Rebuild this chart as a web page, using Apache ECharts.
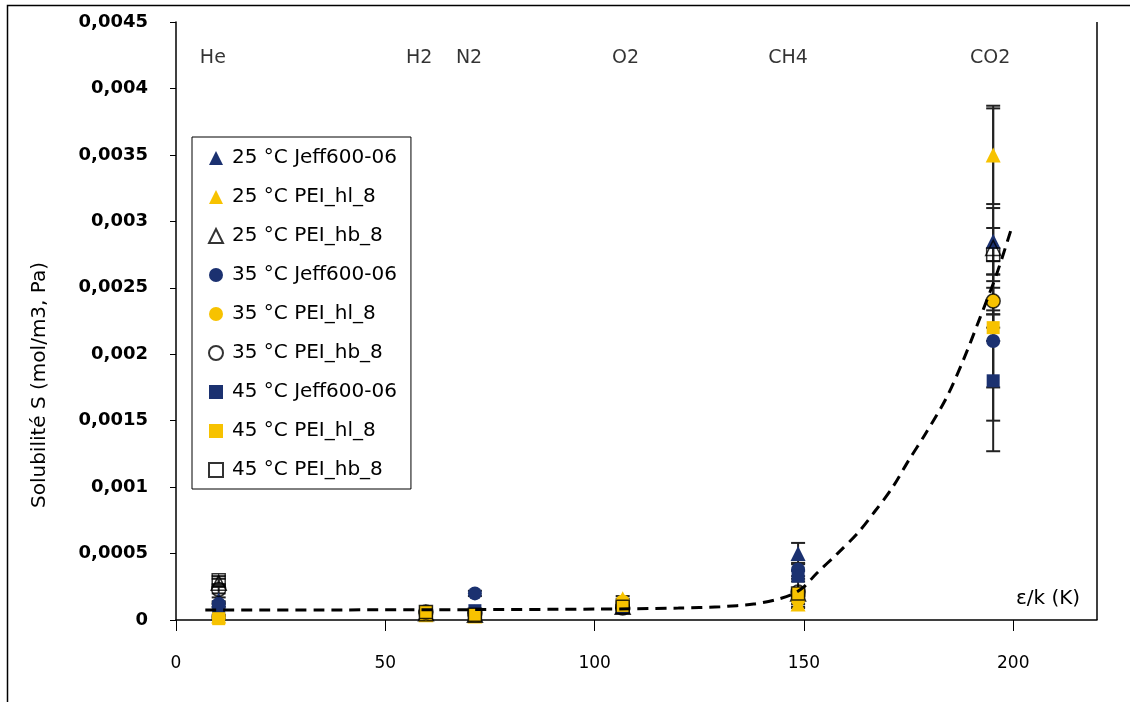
<!DOCTYPE html>
<html>
<head>
<meta charset="utf-8">
<script src="https://cdn.jsdelivr.net/npm/echarts@6/dist/echarts.min.js"></script>
<style>
html,body{margin:0;padding:0;background:#fff;}
#chart{width:1130px;height:702px;}
</style>
</head>
<body>
<div id="chart"></div>
<script>
// ---- data ----
const gasNames = ['He', 'H2', 'N2', 'O2', 'CH4', 'CO2'];
const gasX = [10.2, 59.7, 71.4, 106.7, 148.6, 195.2];
const gasLabelX = [8.8, 58.1, 70.0, 107.4, 146.2, 194.5];
const gasLabelY = 0.00423;

const seriesNames = [
  '25 °C Jeff600-06', '25 °C PEI_hl_8', '25 °C PEI_hb_8',
  '35 °C Jeff600-06', '35 °C PEI_hl_8', '35 °C PEI_hb_8',
  '45 °C Jeff600-06', '45 °C PEI_hl_8', '45 °C PEI_hb_8'
];
// values at He, H2, N2, O2, CH4, CO2
const s25Jeff = [0.00015, 0.00006, 0.00006, 0.00010, 0.00050, 0.00285];
const s25Hl   = [0.00003, 0.00004, 0.00003, 0.00016, 0.00012, 0.00350];
const s25Hb   = [0.00028, 0.00005, 0.00004, 0.00010, 0.00020, 0.00280];
const s35Jeff = [0.00012, 0.00006, 0.00020, 0.00010, 0.00038, 0.00210];
const s35Hl   = [0.00002, 0.00005, 0.00004, 0.00014, 0.00015, 0.00240];
const s35Hb   = [0.00023, 0.00006, 0.00005, 0.00009, 0.00021, 0.00240];
const s45Jeff = [0.00010, 0.00006, 0.00007, 0.00010, 0.00033, 0.00180];
const s45Hl   = [0.00001, 0.00006, 0.00004, 0.00011, 0.00020, 0.00220];
const s45Hb   = [0.00030, 0.00006, 0.00004, 0.00010, 0.00020, 0.00275];
// symmetric error bars
const e25Jeff = [0.00002, 0.00001, 0.00001, 0.00001, 0.00008, 0.00025];
const e25Hl   = [0.00001, 0.00001, 0.00001, 0.00002, 0.00002, 0.00037];
const e25Hb   = [0.00003, 0.00001, 0.00001, 0.00001, 0.00002, 0.00105];
const e35Jeff = [0.00002, 0.00001, 0.00002, 0.00001, 0.00005, 0.00060];
const e35Hl   = [0.00001, 0.00001, 0.00001, 0.00002, 0.00003, 0.00020];
const e35Hb   = [0.00003, 0.00001, 0.00001, 0.00001, 0.00002, 0.00010];
const e45Jeff = [0.00002, 0.00001, 0.00001, 0.00001, 0.00004, 0.00053];
const e45Hl   = [0.00001, 0.00001, 0.00001, 0.00002, 0.00011, 0.00010];
const e45Hb   = [0.00003, 0.00001, 0.00001, 0.00001, 0.00002, 0.00020];

// dashed trend curve
const fitX = [7, 40, 70, 100, 120, 130, 138, 143, 147, 150, 153, 158, 163, 167, 171, 175, 179, 184, 188, 192, 196, 199.5];
const fitY = [0.000075, 0.000076, 0.000078, 0.000082, 0.00009, 0.0001, 0.00012, 0.00015, 0.00019, 0.00025, 0.00035, 0.0005, 0.00066, 0.00082, 0.00099, 0.0012, 0.0014, 0.00167, 0.00195, 0.00227, 0.0026, 0.00294];

const xTicks = [0, 50, 100, 150, 200];
const yTicks = [0, 0.0005, 0.001, 0.0015, 0.002, 0.0025, 0.003, 0.0035, 0.004, 0.0045];

// ---- styles ----
const NAVY = '#1b3170', GOLD = '#f7c200';
const styles = [
  {symbol: 'triangle', size: 15, color: NAVY},
  {symbol: 'triangle', size: 15, color: GOLD},
  {symbol: 'triangle', size: 15, color: 'rgba(255,255,255,0)', open: true},
  {symbol: 'circle', size: 14, color: NAVY},
  {symbol: 'circle', size: 14, color: GOLD},
  {symbol: 'circle', size: 14, color: 'rgba(255,255,255,0)', open: true},
  {symbol: 'rect', size: 13, color: NAVY},
  {symbol: 'rect', size: 13, color: GOLD},
  {symbol: 'rect', size: 13, color: 'rgba(255,255,255,0)', open: true}
];
const values = [s25Jeff, s25Hl, s25Hb, s35Jeff, s35Hl, s35Hb, s45Jeff, s45Hl, s45Hb];
const errors = [e25Jeff, e25Hl, e25Hb, e35Jeff, e35Hl, e35Hb, e45Jeff, e45Hl, e45Hb];

const series = [];
values.forEach((vals, i) => {
  series.push({
    type: 'custom',
    name: seriesNames[i] + ' err',
    z: 2,
    clip: false,
    data: vals.map((v, j) => [gasX[j], v, errors[i][j]]),
    renderItem: function (params, api) {
      const x = api.value(0), y = api.value(1), e = api.value(2);
      const top = api.coord([x, y + e]);
      const bot = api.coord([x, y - e]);
      const hw = 7;
      const st = {stroke: '#222', lineWidth: 2};
      return {
        type: 'group',
        children: [
          {type: 'line', shape: {x1: top[0], y1: top[1], x2: bot[0], y2: bot[1]}, style: st},
          {type: 'line', shape: {x1: top[0] - hw, y1: top[1], x2: top[0] + hw, y2: top[1]}, style: st},
          {type: 'line', shape: {x1: bot[0] - hw, y1: bot[1], x2: bot[0] + hw, y2: bot[1]}, style: st}
        ]
      };
    }
  });
});
values.forEach((vals, i) => {
  const s = styles[i];
  series.push({
    type: 'scatter',
    name: seriesNames[i],
    z: 3,
    clip: false,
    symbol: s.symbol,
    symbolSize: s.size,
    itemStyle: s.open
      ? {color: s.color, borderColor: '#000', borderWidth: 1.5}
      : {color: s.color, opacity: 1},
    data: vals.map((v, j) => [gasX[j], v])
  });
});
series.push({
  type: 'line',
  name: 'fit',
  z: 4,
  symbol: 'none',
  smooth: 0.3,
  lineStyle: {color: '#000', width: 3, type: [11, 7]},
  data: fitX.map((x, k) => [x, fitY[k]])
});
series.push({
  type: 'scatter',
  name: 'gas',
  symbolSize: 0,
  silent: true,
  label: {
    show: true, position: 'inside',
    formatter: p => p.value[2],
    color: '#000', fontFamily: 'DejaVu Sans', fontSize: 19
  },
  data: gasNames.map((g, k) => [gasLabelX[k], gasLabelY, g])
});

const chart = echarts.init(document.getElementById('chart'), null, {renderer: 'canvas'});
chart.setOption({
  animation: false,
  backgroundColor: '#fff',
  grid: {left: 176, top: 22, right: 33, bottom: 82, show: false},
  xAxis: {
    type: 'value', min: 0, max: 220, interval: 50,
    splitLine: {show: false},
    axisLine: {show: true, onZero: false, lineStyle: {color: '#000', width: 1.5}},
    axisTick: {show: true, inside: false, length: 11, lineStyle: {color: '#000'}, customValues: xTicks},
    axisLabel: {color: '#000', fontFamily: 'DejaVu Sans', fontSize: 17, margin: 35, customValues: xTicks}
  },
  yAxis: {
    type: 'value', min: 0, max: 0.0045, interval: 0.0005,
    splitLine: {show: false},
    axisLine: {show: true, lineStyle: {color: '#000', width: 1.5}},
    axisTick: {show: true, length: 6, lineStyle: {color: '#000'}},
    axisLabel: {color: '#000', fontFamily: 'DejaVu Sans', fontWeight: 'bold', fontSize: 18, margin: 28,
      formatter: v => {
        const idx = yTicks.findIndex(t => Math.abs(t - v) < 1e-9);
        const t = idx >= 0 ? yTicks[idx] : v;
        return t === 0 ? '0' : String(+t.toFixed(4)).replace('.', ',');
      }}
  },
  legend: {
    data: seriesNames,
    orient: 'vertical',
    left: 192, top: 137,
    padding: [11, 14, 9, 16],
    itemGap: 19,
    itemWidth: 14, itemHeight: 14,
    borderColor: '#000', borderWidth: 1,
    backgroundColor: '#fff',
    textStyle: {color: '#000', fontFamily: 'DejaVu Sans', fontSize: 20, lineHeight: 20, padding: [0, 0, 0, 4]}
  },
  graphic: [
    {type: 'rect', left: 5, top: 3, shape: {x: 0, y: 0, width: 1140, height: 710}, style: {fill: 'none', stroke: '#000', lineWidth: 1.5}, z: 0, silent: true},
    {type: 'line', shape: {x1: 1097, y1: 22, x2: 1097, y2: 620}, style: {stroke: '#000', lineWidth: 1.5}, z: 1, silent: true},
    {type: 'text', x: 40, y: 385, rotation: Math.PI / 2, style: {text: 'Solubilité S (mol/m3, Pa)', fontFamily: 'DejaVu Sans', fontSize: 20, fill: '#000', align: 'center', verticalAlign: 'middle'}, z: 10},
    {type: 'text', x: 1048, y: 599, style: {text: 'ε/k (K)', fontFamily: 'DejaVu Sans', fontSize: 20, fill: '#000', align: 'center', verticalAlign: 'middle'}, z: 10}
  ],
  series: series
});
</script>
</body>
</html>
